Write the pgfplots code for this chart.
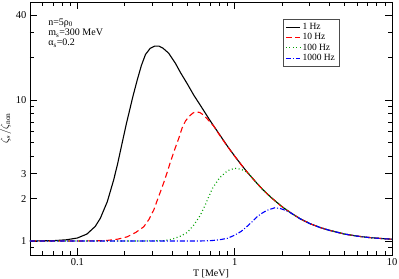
\documentclass[border=0pt]{standalone}
\usepackage{fontspec}
\setmainfont{Liberation Serif}
\usepackage{pgfplots}
\pgfplotsset{compat=1.18}
\definecolor{cgreen}{RGB}{0,160,0}
\begin{document}
\begin{tikzpicture}
\begin{axis}[
  scale only axis, width=362pt, height=253pt,
  xmode=log, ymode=log,
  xmin=0.05, xmax=10, ymin=0.796, ymax=49.5,
  xtick={0.1,1,10}, xticklabels={0.1,1,10},
  minor xtick={0.06,0.07,0.08,0.09,0.2,0.3,0.4,0.5,0.6,0.7,0.8,0.9,2,3,4,5,6,7,8,9},
  ytick={1,2,3,10,40}, yticklabels={1,2,3,10,40},
  minor ytick={0.9,4,5,6,7,8,9,20,30},
  tick align=inside, major tick length=7pt, minor tick length=4pt,
  tick style={black, line width=0.6pt},
  axis line style={line width=0.8pt},
  ticklabel style={font=\fontsize{10.5}{12}\selectfont},
  /pgf/number format/assume math mode=true,
  xlabel={T [MeV]}, ylabel={$\zeta_s/\zeta_{\mathrm{non}}$},
  xlabel style={font=\fontsize{10}{12}\selectfont, yshift=3pt},
  ylabel style={font=\fontsize{10.5}{12}\selectfont, yshift=-2pt},
  legend style={at={(rel axis cs:0.699,0.933)}, anchor=north west,
    draw=black!70, line width=0.5pt, font=\fontsize{9.5}{11}\selectfont,
    row sep=-1.5pt, inner sep=2pt},
  legend cell align=left,
  legend image post style={line width=1pt},
  legend image code/.code={\draw[#1] (0cm,0cm) -- (0.5cm,0cm);},
]
\addplot[black, line width=1.1pt] coordinates {
(0.05,1.0) (0.07,1.005) (0.085,1.02) (0.1,1.05) (0.115,1.12) (0.13,1.27) (0.14,1.45)
(0.155,1.9) (0.17,2.7) (0.18,3.5) (0.193,5.0) (0.205,6.8) (0.214,8.3) (0.225,10.5)
(0.24,13.8) (0.255,17.5) (0.271,21.0) (0.29,23.2) (0.31,24.1) (0.33,24.1) (0.35,23.3)
(0.38,21.5) (0.42,18.2) (0.453,15.6) (0.5,13.0) (0.55,10.8) (0.6,9.3) (0.7,7.1)
(0.8,5.7) (0.9,4.7) (1.0,4.0) (1.1,3.48) (1.2,3.08) (1.35,2.65) (1.5,2.33) (1.7,2.04)
(2.0,1.75) (2.3,1.57) (2.6,1.44) (3.0,1.33) (3.5,1.245) (4,1.19) (5,1.12) (6,1.083)
(7,1.061) (8,1.047) (9,1.037) (10,1.03)};
\addlegendentry{1 Hz}
\addplot[red, line width=1.1pt, dash pattern=on 6pt off 3.5pt] coordinates {
(0.05,1.0) (0.1,1.0) (0.15,1.005) (0.18,1.03) (0.207,1.07) (0.235,1.15) (0.264,1.26)
(0.285,1.42) (0.306,1.66) (0.325,2.0) (0.347,2.43) (0.37,3.0) (0.391,3.65) (0.42,4.6)
(0.44,5.3) (0.465,6.4) (0.487,7.1) (0.511,7.6) (0.54,8.05) (0.565,8.25) (0.6,8.15)
(0.637,7.8) (0.68,7.2) (0.738,6.5) (0.8,5.65) (0.9,4.68) (1.0,3.99) (1.1,3.48)
(1.2,3.08) (1.35,2.65) (1.5,2.33) (1.7,2.04) (2.0,1.75) (2.3,1.57) (2.6,1.44)
(3.0,1.33) (3.5,1.245) (4,1.19) (5,1.12) (6,1.083) (7,1.061) (8,1.047) (9,1.037) (10,1.03)};
\addlegendentry{10 Hz}
\addplot[cgreen, line width=1.2pt, dash pattern=on 0.9pt off 2.6pt] coordinates {
(0.05,1.0) (0.2,1.0) (0.35,1.003) (0.4,1.03) (0.45,1.08) (0.5,1.15) (0.55,1.3)
(0.6,1.5) (0.65,1.8) (0.72,2.35) (0.8,2.8) (0.9,3.15) (1.0,3.28) (1.1,3.22)
(1.2,3.08) (1.35,2.65) (1.5,2.33) (1.7,2.04) (2.0,1.75) (2.3,1.57) (2.6,1.44)
(3.0,1.33) (3.5,1.245) (4,1.19) (5,1.12) (6,1.083) (7,1.061) (8,1.047) (9,1.037) (10,1.03)};
\addlegendentry{100 Hz}
\addplot[blue, line width=1.1pt, dash pattern=on 5pt off 2pt on 1pt off 2pt] coordinates {
(0.05,1.0) (0.3,1.0) (0.6,1.0) (0.7,1.005) (0.8,1.02) (0.9,1.045) (1.0,1.1) (1.1,1.17)
(1.2,1.27) (1.3,1.38) (1.4,1.5) (1.5,1.58) (1.6,1.65) (1.8,1.72) (1.95,1.70)
(2.1,1.65) (2.3,1.57) (2.6,1.44) (3.0,1.33) (3.5,1.245) (4,1.19) (5,1.12) (6,1.083)
(7,1.061) (8,1.047) (9,1.037) (10,1.03)};
\addlegendentry{1000 Hz}
\node[anchor=west, font=\fontsize{10}{12}\selectfont, inner sep=0pt] at (rel axis cs:0.05,0.917) {n=5ρ\textsubscript{0}};
\node[anchor=west, font=\fontsize{10}{12}\selectfont, inner sep=0pt] at (rel axis cs:0.05,0.877) {m\textsubscript{s}=300 MeV};
\node[anchor=west, font=\fontsize{10}{12}\selectfont, inner sep=0pt] at (rel axis cs:0.05,0.838) {α\textsubscript{s}=0.2};
\coordinate (bl) at (rel axis cs:0,0);
\coordinate (tr) at (rel axis cs:1,1);
\end{axis}
\pgfresetboundingbox
\path[use as bounding box] ([xshift=-30pt,yshift=-24pt]bl) rectangle ([xshift=7pt,yshift=2pt]tr);
\end{tikzpicture}
\end{document}
